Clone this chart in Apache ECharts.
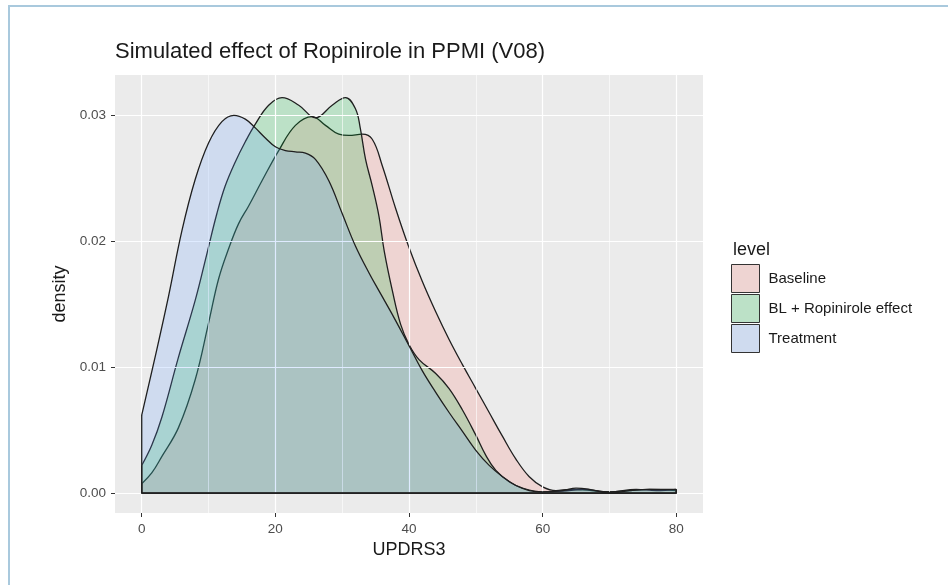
<!DOCTYPE html>
<html>
<head>
<meta charset="utf-8">
<script src="https://cdn.jsdelivr.net/npm/echarts@6/dist/echarts.min.js"></script>
<style>
  html, body { margin: 0; padding: 0; background: #fff; }
  #chart { width: 948px; height: 585px; }
</style>
</head>
<body>
<div id="chart"></div>
<script>
// density curves: [UPDRS3, density]
var levels = ['Baseline', 'BL + Ropinirole effect', 'Treatment'];

var baseline = [
  [0, 0.00075], [1.5, 0.0016], [3, 0.0029], [5.5, 0.0052], [8, 0.0090], [10, 0.0135],
  [11.5, 0.0170], [13, 0.0194], [14.5, 0.0214], [16, 0.0228], [18, 0.0248], [20.5, 0.0272],
  [23, 0.0292], [25.5, 0.0299], [27.5, 0.0292], [29.5, 0.0285], [31, 0.0284], [33, 0.0285],
  [34.5, 0.0281], [36, 0.0260], [38, 0.0226], [40, 0.0195], [42, 0.0168], [44, 0.0144],
  [46, 0.0122], [48, 0.0102], [50, 0.0083], [52, 0.0064], [54, 0.0045], [56, 0.0027],
  [58, 0.0013], [60, 0.0005], [62, 0.0002], [64, 0.0003], [66, 0.00025], [70, 0.0001],
  [73, 0.0002], [76, 0.0003], [80, 0.0002]
];

var blEffect = [
  [0, 0.0022], [1.5, 0.0038], [3, 0.0060], [5.5, 0.0108], [8, 0.0153], [9.75, 0.0190],
  [11.25, 0.0222], [12.5, 0.0244], [14, 0.0263], [15.5, 0.0279], [17, 0.0293], [19, 0.0308],
  [21, 0.0314], [23.5, 0.0308], [26, 0.0298], [28.5, 0.0308], [30.5, 0.0314], [32, 0.0305],
  [32.7, 0.0290], [33.5, 0.0265], [34.5, 0.0244], [35.5, 0.0220], [36.3, 0.0192], [37.5, 0.0161],
  [38.75, 0.0134], [40, 0.0118], [41.5, 0.0106], [44, 0.0095], [46, 0.0083], [48, 0.0066],
  [50, 0.0046], [51.5, 0.0030], [53, 0.0018], [55, 0.0009], [57, 0.0004], [60, 0.0001],
  [63, 0.00015], [66, 0.0003], [70, 0.0001], [74, 0.0003], [77, 0.0002], [80, 0.0003]
];

var treatment = [
  [0, 0.0062], [2, 0.0108], [4, 0.0156], [6, 0.0208], [8, 0.0249], [10, 0.0278],
  [12, 0.0295], [13.8, 0.0300], [15.5, 0.0297], [17, 0.0290], [18.5, 0.0282],
  [20, 0.0275], [21.5, 0.0272], [23, 0.0271], [24.5, 0.0270], [26, 0.0265], [28, 0.0248],
  [30, 0.0222], [32, 0.0196], [34, 0.0175], [36, 0.0156], [38, 0.0137], [40, 0.0117],
  [42, 0.0097], [44, 0.0080], [46, 0.0064], [48, 0.0049], [50, 0.0034], [52, 0.0022],
  [54, 0.0013], [56, 0.0006], [58, 0.0002], [60, 0.0001], [63, 0.0002], [65, 0.0004],
  [67, 0.0003], [70, 0.0], [73, 0.0002], [76, 0.0003], [80, 0.0003]
];

var xTicks = [0, 20, 40, 60, 80];
var xMinor = [10, 30, 50, 70];
var yTicks = [0, 0.01, 0.02, 0.03];
var yMinor = [0.005, 0.015, 0.025];

var fills = ['rgba(248,118,109,0.2)', 'rgba(0,186,56,0.2)', 'rgba(97,156,255,0.2)'];
var keyFills = ['#EED4D2', '#BCE1C7', '#CFDBEF'];
var curves = [baseline, blEffect, treatment];

var chart = echarts.init(document.getElementById('chart'));

var gridLines = [];
xTicks.forEach(function (v) { gridLines.push({ xAxis: v, lineStyle: { width: 1.2 } }); });
xMinor.forEach(function (v) { gridLines.push({ xAxis: v, lineStyle: { width: 0.6 } }); });
yTicks.forEach(function (v) { gridLines.push({ yAxis: v, lineStyle: { width: 1.2 } }); });
yMinor.forEach(function (v) { gridLines.push({ yAxis: v, lineStyle: { width: 0.6 } }); });

var series = [{
  name: 'grid',
  type: 'line',
  data: [],
  z: 1,
  silent: true,
  markLine: {
    silent: true,
    symbol: 'none',
    label: { show: false },
    lineStyle: { color: '#ffffff', type: 'solid' },
    data: gridLines
  }
}];

curves.forEach(function (c, i) {
  series.push({
    name: levels[i],
    type: 'line',
    data: c,
    smooth: 0.4,
    showSymbol: false,
    z: 3 + i,
    lineStyle: { color: '#1f1f1f', width: 1.3 },
    itemStyle: { color: '#1f1f1f' },
    areaStyle: { color: fills[i], opacity: 1 }
  });
  // vertical edges at the ends of the range plus the baseline
  series.push({
    name: levels[i] + ' edge',
    type: 'line',
    data: [[0, c[0][1]], [0, 0], [80, 0], [80, c[c.length - 1][1]]],
    showSymbol: false,
    z: 6,
    silent: true,
    lineStyle: { color: '#1f1f1f', width: 1.3 }
  });
});

chart.setOption({
  animation: false,
  backgroundColor: '#ffffff',
  textStyle: { fontFamily: 'Liberation Sans, Arial, sans-serif' },
  title: [{
    text: 'Simulated effect of Ropinirole in PPMI (V08)',
    left: 110,
    top: 36,
    textStyle: { fontSize: 22, fontWeight: 'normal', color: '#1a1a1a' }
  }, {
    text: 'level',
    left: 728,
    top: 236,
    textStyle: { fontSize: 18, fontWeight: 'normal', color: '#1a1a1a' }
  }],
  legend: {
    data: levels.map(function (n, i) {
      return {
        name: n,
        icon: 'rect',
        itemStyle: { color: keyFills[i], borderColor: '#333', borderWidth: 1 }
      };
    }),
    orient: 'vertical',
    left: 726,
    top: 259,
    itemWidth: 28,
    itemHeight: 28,
    itemGap: 1,
    selectedMode: false,
    textStyle: { fontSize: 15, color: '#1a1a1a', padding: [0, 0, 0, 4] }
  },
  grid: {
    left: 115,
    right: 245,
    top: 75,
    bottom: 72,
    show: true,
    backgroundColor: '#EBEBEB',
    borderWidth: 0
  },
  xAxis: {
    type: 'value',
    min: -4,
    max: 84,
    name: 'UPDRS3',
    nameLocation: 'middle',
    nameGap: 28,
    nameTextStyle: { fontSize: 18, color: '#1a1a1a' },
    axisLine: { show: false, onZero: false },
    axisTick: { show: true, length: 4, lineStyle: { color: '#333' }, customValues: xTicks },
    axisLabel: { fontSize: 13.5, color: '#4D4D4D', margin: 9, customValues: xTicks },
    splitLine: { show: false }
  },
  yAxis: {
    type: 'value',
    min: -0.00158,
    max: 0.0332,
    name: 'density',
    nameLocation: 'middle',
    nameGap: 44,
    nameRotate: 90,
    nameTextStyle: { fontSize: 18, color: '#1a1a1a' },
    axisLine: { show: false, onZero: false },
    axisTick: { show: true, length: 4, lineStyle: { color: '#333' }, customValues: yTicks },
    axisLabel: {
      fontSize: 13.5, color: '#4D4D4D', margin: 9, customValues: yTicks,
      formatter: function (v) { return v.toFixed(2); }
    },
    splitLine: { show: false }
  },
  graphic: [{
    type: 'rect',
    shape: { x: 9, y: 6, width: 1000, height: 700 },
    style: { fill: 'none', stroke: '#a9c9dd', lineWidth: 2 },
    silent: true
  }],
  series: series
});
</script>
</body>
</html>
